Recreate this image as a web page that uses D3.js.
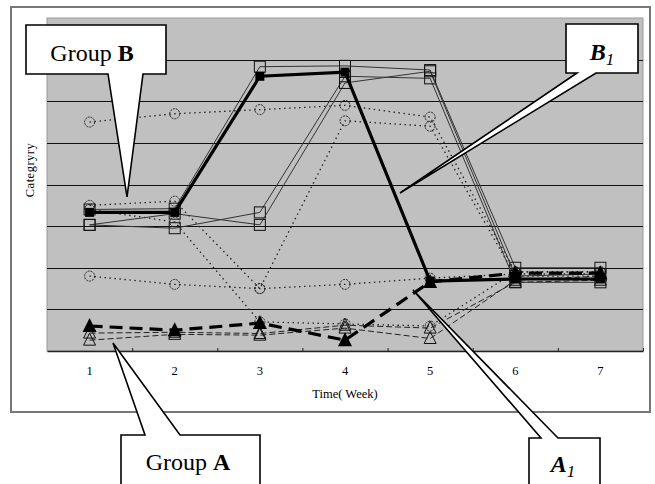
<!DOCTYPE html>
<html><head><meta charset="utf-8">
<script src="https://cdn.jsdelivr.net/npm/d3@7"></script>
<style>body{margin:0;background:#fff}svg{display:block}</style>
</head><body>
<svg id="c" width="655" height="484"></svg>
<script>
// ---- data ----
const weeks = [1, 2, 3, 4, 5, 6, 7];
const yTicks = [1, 2, 3, 4, 5, 6, 7, 8];
const xTitle = "Time( Week)";
const yTitle = "Categryry";

// Group B (squares)
const seriesB1 = [3.33, 3.33, 6.6, 6.7, 1.68, 1.73, 1.73];
const seriesB2 = [3.4, 3.42, 6.83, 6.85, 6.75, 2.0, 2.0];
const seriesB3 = [3.03, 2.95, 3.33, 6.6, 6.55, 1.65, 1.65];
const seriesB4 = [3.03, 3.3, 3.03, 6.44, 6.72, 1.8, 1.85];
// circles (dotted)
const seriesC1 = [5.5, 5.7, 5.8, 5.9, 5.62, 1.9, 1.9];
const seriesC2 = [1.8, 1.6, 1.5, 1.6, 1.75, 1.85, 1.85];
const seriesC3 = [3.5, 3.6, 1.5, 5.53, 5.4, 1.8, 1.8];
const seriesC4 = [3.4, 3.1, 0.7, 0.65, 0.6, 1.9, 1.9];
// Group A (triangles)
const seriesA1 = [0.6, 0.5, 0.67, 0.26, 1.66, 1.87, 1.87];
const seriesA2 = [0.43, 0.45, 0.42, 0.62, 0.55, 1.65, 1.7];
const seriesA3 = [0.26, 0.4, 0.38, 0.55, 0.3, 1.7, 1.8];

const styles = [
  {v: seriesC1, w: 1.3, dash: "1.5,3.5", col: "#222", m: "circle"},
  {v: seriesC2, w: 1.3, dash: "1.5,3.5", col: "#222", m: "circle"},
  {v: seriesC3, w: 1.3, dash: "1.5,3.5", col: "#222", m: "circle"},
  {v: seriesC4, w: 1.3, dash: "1.5,3.5", col: "#222", m: "circle"},
  {v: seriesA2, w: 1, dash: "6,3", col: "#222", m: "tri"},
  {v: seriesA3, w: 1, dash: "6,3", col: "#222", m: "tri"},
  {v: seriesB2, w: 1, dash: null, col: "#333", m: "sq"},
  {v: seriesB3, w: 1, dash: null, col: "#333", m: "sq"},
  {v: seriesB4, w: 1, dash: null, col: "#333", m: "sq"},
  {v: seriesA1, w: 3.2, dash: "13,7", col: "#000", m: "trifill"},
  {v: seriesB1, w: 3.2, dash: null, col: "#000", m: "sqfill"}
];

const svg = d3.select("#c");
// outer frame
svg.append("rect").attr("x", 11).attr("y", 7).attr("width", 639).attr("height", 405)
  .attr("fill", "#fff").attr("stroke", "#777").attr("stroke-width", 2);

const L = 47, R = 643, T = 18, B = 351;
const x = d3.scaleBand().domain(weeks).range([L, R]);
const cx = d => x(d) + x.bandwidth() / 2;
const y = d3.scaleLinear().domain([0, 8]).range([B, T]);

svg.append("rect").attr("x", L).attr("y", T).attr("width", R - L).attr("height", B - T)
  .attr("fill", "#c0c0c0").attr("stroke", "#999").attr("stroke-width", 1);

// gridlines
svg.append("g").selectAll("line").data(yTicks.filter(t => t < 8)).join("line")
  .attr("x1", L).attr("x2", R).attr("y1", d => Math.round(y(d)) + 0.5).attr("y2", d => Math.round(y(d)) + 0.5)
  .attr("stroke", "#111").attr("stroke-width", 1);

// x axis
const xAxis = svg.append("g").attr("transform", `translate(0,${B})`)
  .call(d3.axisBottom(x).tickSize(0).tickPadding(15));
xAxis.select(".domain").attr("stroke", "#222").attr("stroke-width", 1.5);
xAxis.selectAll("text").attr("font-family", "Liberation Serif, serif").attr("font-size", 12.5).attr("fill", "#000");
// band boundary ticks (pointing up)
svg.append("g").selectAll("line").data(weeks.slice(1).concat([8])).join("line")
  .attr("x1", (d, i) => (i < weeks.length - 1 ? x(d) : R) + 0.5)
  .attr("x2", (d, i) => (i < weeks.length - 1 ? x(d) : R) + 0.5)
  .attr("y1", B - 3).attr("y2", B).attr("stroke", "#222");

svg.append("text").attr("x", 345).attr("y", 398).attr("text-anchor", "middle")
  .attr("font-family", "Liberation Serif, serif").attr("font-size", 12.5).text(xTitle);
svg.append("text").attr("transform", "translate(34,170) rotate(-90)").attr("text-anchor", "middle")
  .attr("font-family", "Liberation Serif, serif").attr("font-size", 12.5).attr("letter-spacing", 0.5).text(yTitle);

// series
const line = d3.line().x((d, i) => cx(weeks[i])).y(d => y(d));
const g = svg.append("g");
styles.forEach(s => {
  g.append("path").datum(s.v).attr("d", line).attr("fill", "none")
    .attr("stroke", s.col).attr("stroke-width", s.w)
    .attr("stroke-dasharray", s.dash).attr("stroke-linejoin", "miter");
  const mk = g.append("g");
  s.v.forEach((v, i) => {
    const px = cx(weeks[i]), py = y(v);
    if (s.m === "circle") {
      mk.append("circle").attr("cx", px).attr("cy", py).attr("r", 5)
        .attr("fill", "none").attr("stroke", "#222").attr("stroke-width", 1).attr("stroke-dasharray", "2,1");
    } else if (s.m === "sq") {
      mk.append("rect").attr("x", px - 5.5).attr("y", py - 5.5).attr("width", 11).attr("height", 11)
        .attr("fill", "none").attr("stroke", "#111").attr("stroke-width", 1);
    } else if (s.m === "sqfill") {
      mk.append("rect").attr("x", px - 4.5).attr("y", py - 4.5).attr("width", 9).attr("height", 9)
        .attr("fill", "#000");
    } else if (s.m === "tri") {
      mk.append("path").attr("d", `M${px},${py - 7}L${px + 6},${py + 5}L${px - 6},${py + 5}Z`)
        .attr("fill", "none").attr("stroke", "#111").attr("stroke-width", 1);
    } else if (s.m === "trifill") {
      mk.append("path").attr("d", `M${px},${py - 8}L${px + 7},${py + 6}L${px - 7},${py + 6}Z`)
        .attr("fill", "#000");
    }
  });
});

// callouts
const callouts = [
  {d: "M26,25H166V74H143L127,197L108,74H26Z"},
  {d: "M566,24H638V73H596L400,193L577,73H566Z"},
  {d: "M121,492V435H145L113,343L180,435H260V492"},
  {d: "M529,492V438H541L413,290L558,438H600V492"}
];
svg.append("g").selectAll("path").data(callouts).join("path").attr("d", d => d.d)
  .attr("fill", "#fff").attr("stroke", "#000").attr("stroke-width", 1.6).attr("stroke-linejoin", "miter");

function label(xp, yp, parts) {
  const t = svg.append("text").attr("x", xp).attr("y", yp).attr("text-anchor", "middle")
    .attr("font-family", "Liberation Serif, 'Times New Roman', serif").attr("font-size", 24);
  parts.forEach(p => {
    const ts = t.append("tspan").text(p.t);
    if (p.b) ts.attr("font-weight", "bold");
    if (p.i) ts.attr("font-style", "italic");
    if (p.sub) ts.attr("font-size", 17).attr("dy", 5);
  });
}
label(92, 61, [{t: "Group "}, {t: "B", b: 1}]);
label(602, 60, [{t: "B", b: 1, i: 1}, {t: "1", i: 1, sub: 1}]);
label(188, 470, [{t: "Group "}, {t: "A", b: 1}]);
label(563, 472, [{t: "A", b: 1, i: 1}, {t: "1", i: 1, sub: 1}]);
</script>
</body></html>
